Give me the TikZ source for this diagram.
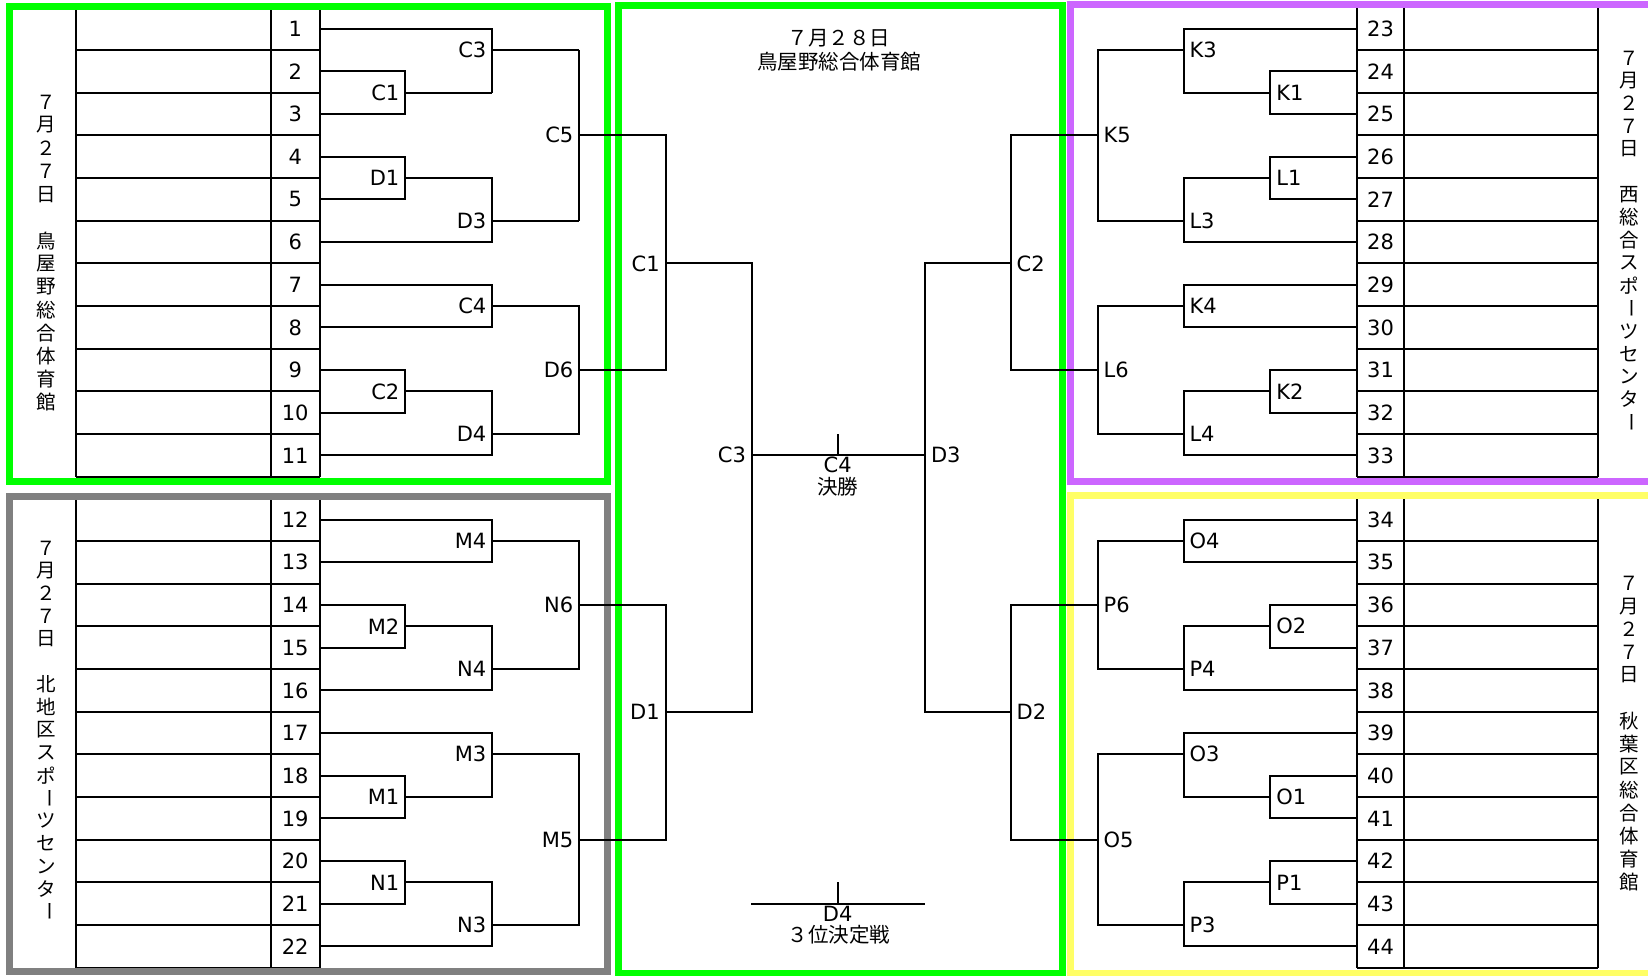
\documentclass[tikz,border=0pt]{standalone}
\usepackage{fontspec}
\setmainfont{DejaVu Sans}
\newfontfamily\jp{Noto Sans CJK JP}
\definecolor{grn}{RGB}{0,255,0}
\definecolor{gry}{RGB}{128,128,128}
\definecolor{prp}{RGB}{204,102,255}
\definecolor{ylw}{RGB}{255,255,102}
\def\vbar{\rotatebox{-90}{ー}}
\begin{document}
\begin{tikzpicture}[x=1pt,y=-1pt,line width=2pt,
  lbl/.style={font=\fontsize{21}{24}\selectfont,inner sep=0pt},
  lL/.style={lbl,anchor=east,xshift=-5pt},
  lR/.style={lbl,anchor=west,xshift=5pt},
  num/.style={lbl},
  jtxt/.style={font=\jp\fontsize{20.5}{23}\selectfont,inner sep=0pt},
  vch/.style={font=\jp\fontsize{19.5}{22}\selectfont,inner sep=0pt},
  border/.style={line width=7pt}]
\useasboundingbox (0,0) rectangle (1648,975);
\clip (0,0) rectangle (1648,975);
\fill[white] (0,0) rectangle (1648,975);

% ---------- tables ----------
\foreach \T/\n in {7.33/0, 498.33/11}{
  \foreach \x in {76.3,271,319.5} \draw (\x,\T) -- (\x,{\T+469.37});
  \foreach \k in {1,...,11}{
    \draw (76.3,{\T+42.67*\k}) -- (319.5,{\T+42.67*\k});
    \pgfmathtruncatemacro\nn{\n+\k}
    \node[num] (n\nn) at (295.2,{\T+42.67*(\k-0.5)}) {\nn};
  }
}
\foreach \T/\n in {7.33/22, 498.33/33}{
  \foreach \x in {1357,1404,1598.4} \draw (\x,\T) -- (\x,{\T+469.37});
  \foreach \k in {1,...,11}{
    \draw (1357,{\T+42.67*\k}) -- (1598.4,{\T+42.67*\k});
    \pgfmathtruncatemacro\nn{\n+\k}
    \node[num] (n\nn) at (1380.5,{\T+42.67*(\k-0.5)}) {\nn};
  }
}

% ---------- borders ----------
\draw[border,grn] (9.5,6) rectangle (607.5,481.5);
\draw[border,gry] (9.5,496.7) rectangle (607.5,971.5);
\draw[border,grn] (618.5,5.5) rectangle (1062,973);
\draw[border,prp] (1070,4.5) rectangle (1665,481);
\draw[border,ylw] (1070,495.5) rectangle (1665,973);

% ---------- vertical side texts ----------
\foreach \c [count=\i] in {７,月,２,７,日,{},鳥,屋,野,総,合,体,育,館}
  \node[vch] (tl\i) at (46.7,{102+23.1*(\i-1)}) {\c};
\foreach \c [count=\i] in {７,月,２,７,日,{},北,地,区,ス,ポ,\vbar,ツ,セ,ン,タ,\vbar}
  \node[vch] (bl\i) at (46.7,{548.3+22.7*(\i-1)}) {\c};
\foreach \c [count=\i] in {７,月,２,７,日,{},西,総,合,ス,ポ,\vbar,ツ,セ,ン,タ,\vbar}
  \node[vch] (tr\i) at (1629,{58+22.75*(\i-1)}) {\c};
\foreach \c [count=\i] in {７,月,２,７,日,{},秋,葉,区,総,合,体,育,館}
  \node[vch] (br\i) at (1629,{583.3+22.95*(\i-1)}) {\c};

% ---------- top-left bracket ----------
\draw (319.5,71.34) -| (405.3,114.0) -- (319.5,114.0);
\draw (405.3,92.67) -- (492.3,92.67);
\draw (319.5,28.67) -| (492.3,92.67);
\draw (492.3,50) -- (579.3,50);
\draw (319.5,156.68) -| (405.3,199.35) -- (319.5,199.35);
\draw (405.3,178) -| (492.3,242) -- (319.5,242);
\draw (492.3,220.7) -- (579.3,220.7);
\draw (579.3,50) -- (579.3,220.7);
\draw (579.3,135.3) -| (665.7,370) -- (579.3,370);
\draw (319.5,284.7) -| (492.3,327.4) -- (319.5,327.4);
\draw (492.3,306) -| (579.3,434) -- (492.3,434);
\draw (319.5,370) -| (405.3,412.7) -- (319.5,412.7);
\draw (405.3,391.4) -| (492.3,455.4) -- (319.5,455.4);
\node[lL] (lC3) at (492.3,50) {C3};
\node[lL] (lC1) at (405.3,92.67) {C1};
\node[lL] (lC5) at (579.3,135.3) {C5};
\node[lL] (lD1) at (405.3,178) {D1};
\node[lL] (lD3) at (492.3,220.7) {D3};
\node[lL] (lC4) at (492.3,306) {C4};
\node[lL] (lD6) at (579.3,370) {D6};
\node[lL] (lC2) at (405.3,391.4) {C2};
\node[lL] (lD4) at (492.3,434) {D4};

% ---------- bottom-left bracket ----------
\draw (319.5,519.67) -| (492.3,562.3) -- (319.5,562.3);
\draw (492.3,541) -| (579.3,669) -- (492.3,669);
\draw (319.5,605) -| (405.3,647.7) -- (319.5,647.7);
\draw (405.3,626.3) -| (492.3,690.35) -- (319.5,690.35);
\draw (319.5,733) -| (492.3,797) -- (405.3,797);
\draw (319.5,775.7) -| (405.3,818.4) -- (319.5,818.4);
\draw (492.3,754.3) -| (579.3,925) -- (492.3,925);
\draw (319.5,861) -| (405.3,903.7) -- (319.5,903.7);
\draw (405.3,882.4) -| (492.3,946.4) -- (319.5,946.4);
\draw (579.3,605) -| (665.7,839.7) -- (579.3,839.7);
\node[lL] (lM4) at (492.3,541) {M4};
\node[lL] (lN6) at (579.3,605) {N6};
\node[lL] (lM2) at (405.3,626.3) {M2};
\node[lL] (lN4) at (492.3,669) {N4};
\node[lL] (lM3) at (492.3,754.3) {M3};
\node[lL] (lM1) at (405.3,797) {M1};
\node[lL] (lM5) at (579.3,839.7) {M5};
\node[lL] (lN1) at (405.3,882.4) {N1};
\node[lL] (lN3) at (492.3,925) {N3};

% ---------- central ----------
\draw (665.7,263.35) -| (752,711.7) -- (665.7,711.7);
\draw (1010.7,263.35) -| (925,711.7) -- (1010.7,711.7);
\draw (752,454.5) -- (925,454.5);
\draw (837.7,434) -- (837.7,454.5);
\draw (1097.7,135.3) -| (1010.7,370) -- (1097.7,370);
\draw (1097.7,605) -| (1010.7,839.7) -- (1097.7,839.7);
\draw (751,903.7) -- (925,903.7);
\draw (837.7,882.4) -- (837.7,903.7);
\node[lL] (cC1) at (665.7,263.35) {C1};
\node[lL] (cC3) at (752,454.5) {C3};
\node[lL] (cD1) at (665.7,711.7) {D1};
\node[lR] (cD3) at (925,454.5) {D3};
\node[lR] (cC2) at (1010.7,263.35) {C2};
\node[lR] (cD2) at (1010.7,711.7) {D2};
\node[lbl] (cC4) at (837.7,464.5) {C4};
\node[jtxt] (final) at (837.7,486.7) {決勝};
\node[lbl] (cD4) at (837.7,914) {D4};
\node[jtxt] (third) at (839,935) {３位決定戦};
\node[jtxt] (date) at (839,38.3) {７月２８日};
\node[jtxt] (venue) at (839,61.7) {鳥屋野総合体育館};

% ---------- top-right bracket ----------
\draw (1357,28.67) -| (1183.5,92.67) -- (1270.4,92.67);
\draw (1357,71.34) -| (1270.4,114) -- (1357,114);
\draw (1183.5,50) -| (1097.7,220.7) -- (1183.5,220.7);
\draw (1357,156.68) -| (1270.4,199.35) -- (1357,199.35);
\draw (1270.4,178) -| (1183.5,242) -- (1357,242);
\draw (1357,284.7) -| (1183.5,327.4) -- (1357,327.4);
\draw (1183.5,306) -| (1097.7,434) -- (1183.5,434);
\draw (1357,370) -| (1270.4,412.7) -- (1357,412.7);
\draw (1270.4,391.4) -| (1183.5,455.4) -- (1357,455.4);
\node[lR] (lK3) at (1183.5,50) {K3};
\node[lR] (lK1) at (1270.4,92.67) {K1};
\node[lR] (lK5) at (1097.7,135.3) {K5};
\node[lR] (lL1) at (1270.4,178) {L1};
\node[lR] (lL3) at (1183.5,220.7) {L3};
\node[lR] (lK4) at (1183.5,306) {K4};
\node[lR] (lL6) at (1097.7,370) {L6};
\node[lR] (lK2) at (1270.4,391.4) {K2};
\node[lR] (lL4) at (1183.5,434) {L4};

% ---------- bottom-right bracket ----------
\draw (1357,519.67) -| (1183.5,562.3) -- (1357,562.3);
\draw (1183.5,541) -| (1097.7,669) -- (1183.5,669);
\draw (1357,605) -| (1270.4,647.7) -- (1357,647.7);
\draw (1270.4,626.3) -| (1183.5,690.35) -- (1357,690.35);
\draw (1357,733) -| (1183.5,797) -- (1270.4,797);
\draw (1357,775.7) -| (1270.4,818.4) -- (1357,818.4);
\draw (1183.5,754.3) -| (1097.7,925) -- (1183.5,925);
\draw (1357,861) -| (1270.4,903.7) -- (1357,903.7);
\draw (1270.4,882.4) -| (1183.5,946.4) -- (1357,946.4);
\node[lR] (lO4) at (1183.5,541) {O4};
\node[lR] (lP6) at (1097.7,605) {P6};
\node[lR] (lO2) at (1270.4,626.3) {O2};
\node[lR] (lP4) at (1183.5,669) {P4};
\node[lR] (lO3) at (1183.5,754.3) {O3};
\node[lR] (lO1) at (1270.4,797) {O1};
\node[lR] (lO5) at (1097.7,839.7) {O5};
\node[lR] (lP1) at (1270.4,882.4) {P1};
\node[lR] (lP3) at (1183.5,925) {P3};
\end{tikzpicture}
\end{document}
